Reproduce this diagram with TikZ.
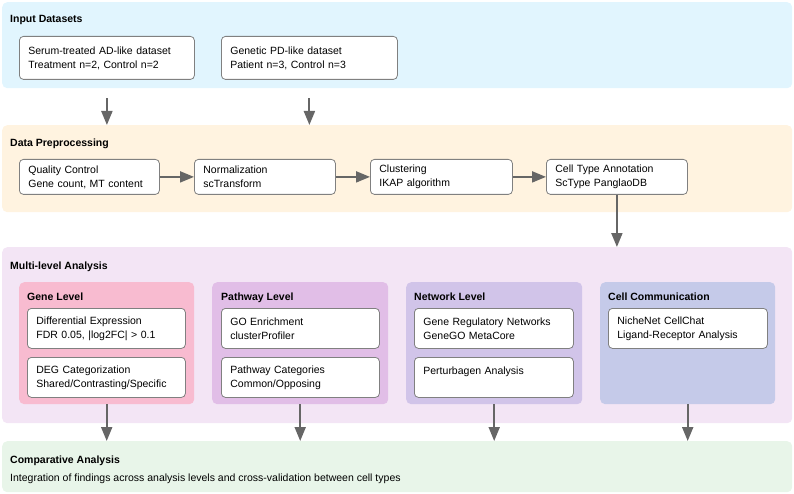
\documentclass[tikz,border=0pt]{standalone}
\usepackage{fontspec}
\setmainfont{Liberation Sans}
\usetikzlibrary{arrows.meta}
\definecolor{bandIn}{HTML}{E1F5FE}
\definecolor{bandPre}{HTML}{FFF3E0}
\definecolor{bandMulti}{HTML}{F3E5F5}
\definecolor{bandComp}{HTML}{E8F5E9}
\definecolor{panGene}{HTML}{F8BBD0}
\definecolor{panPath}{HTML}{E1BEE7}
\definecolor{panNet}{HTML}{D1C4E9}
\definecolor{panCell}{HTML}{C5CAE9}
\definecolor{arrgray}{HTML}{666666}
\definecolor{boxgray}{HTML}{808080}
\begin{document}
\begin{tikzpicture}[x=1pt,y=-1pt,
  font=\fontsize{10.5}{14}\selectfont,
  band/.style={fill=#1, draw=none, rounded corners=5pt, anchor=north west, inner sep=0pt, minimum width=790pt},
  panel/.style={fill=#1, draw=none, rounded corners=5pt, anchor=north west, inner sep=0pt, minimum width=176pt, minimum height=122pt},
  box/.style={draw=boxgray, fill=white, rounded corners=4pt, line width=0.8pt, align=left, anchor=north west, inner xsep=9pt, inner ysep=0pt},
  title/.style={anchor=base west, inner sep=0pt, font=\fontsize{10.5}{14}\selectfont\bfseries},
  plain/.style={anchor=base west, inner sep=0pt},
  arr/.style={draw=arrgray, line width=2pt, -{Triangle[length=14pt,width=11pt]}}
]
\useasboundingbox (0,0) rectangle (794,494);

% bands
\node[band=bandIn, minimum height=86pt] (inb) at (2,2) {};
\node[band=bandPre, minimum height=87pt] (preb) at (2,125) {};
\node[band=bandMulti, minimum height=176pt] (mulb) at (2,247) {};
\node[band=bandComp, minimum height=51pt] (compb) at (2,441) {};

% band titles
\node[title] (tin) at (10,23) {Input Datasets};
\node[title] (tpre) at (10,147) {Data Preprocessing};
\node[title] (tmul) at (10,269) {Multi-level Analysis};
\node[title] (tcomp) at (10,463) {Comparative Analysis};
\node[plain] (ccomp) at (10,481) {Integration of findings across analysis levels and cross-validation between cell types};

% input boxes
\node[box, text width=157pt, minimum height=43pt] (ad) at (19,36) {Serum-treated AD-like dataset\\Treatment n=2, Control n=2};
\node[box, text width=158pt, minimum height=43pt] (pd) at (221,36) {Genetic PD-like dataset\\Patient n=3, Control n=3};

% preprocessing boxes
\node[box, text width=122pt, minimum height=35pt] (qc) at (19,159) {Quality Control\\Gene count, MT content};
\node[box, text width=123pt, minimum height=35pt] (norm) at (194,159) {Normalization\\scTransform};
\node[box, text width=124pt, minimum height=35pt] (clu) at (370,159) {Clustering\\IKAP algorithm};
\node[box, text width=123pt, minimum height=35pt] (cta) at (546,159) {Cell Type Annotation\\ScType PanglaoDB};

% panels
\node[panel=panGene, minimum width=175pt] (gene) at (19,282) {};
\node[panel=panPath] (path) at (212,282) {};
\node[panel=panNet] (net) at (406,282) {};
\node[panel=panCell, minimum width=175pt] (cell) at (600,282) {};

\node[title] (tgene) at (27,300) {Gene Level};
\node[title] (tpath) at (221,300) {Pathway Level};
\node[title] (tnet) at (414,300) {Network Level};
\node[title] (tcell) at (608,300) {Cell Communication};

% inner boxes
\node[box, text width=140pt, minimum height=40pt] (de) at (27,308) {Differential Expression\\FDR 0.05, |log2FC| > 0.1};
\node[box, text width=140pt, minimum height=40pt] (deg) at (27,357) {DEG Categorization\\Shared/Contrasting/Specific};
\node[box, text width=140pt, minimum height=40pt] (go) at (221,308) {GO Enrichment\\clusterProfiler};
\node[box, text width=140pt, minimum height=40pt] (pc) at (221,357) {Pathway Categories\\Common/Opposing};
\node[box, text width=141pt, minimum height=40pt] (grn) at (414,308) {Gene Regulatory Networks\\GeneGO MetaCore};
\node[box, text width=141pt, minimum height=40pt] (pert) at (414,357) {Perturbagen Analysis\\\mbox{}};
\node[box, text width=141pt, minimum height=40pt] (nc) at (608,308) {NicheNet CellChat\\Ligand-Receptor Analysis};

% arrows
\draw[arr] ([yshift=-10pt]ad.south |- inb.south) -- (ad.south |- preb.north);
\draw[arr] ([yshift=-10pt]pd.south |- inb.south) -- (pd.south |- preb.north);
\draw[arr] (qc.east) -- (norm.west);
\draw[arr] (norm.east) -- (clu.west);
\draw[arr] (clu.east) -- (cta.west);
\draw[arr] (cta.south) -- (cta.south |- mulb.north);
\draw[arr] (gene.south) -- (gene.south |- compb.north);
\draw[arr] (path.south) -- (path.south |- compb.north);
\draw[arr] (net.south) -- (net.south |- compb.north);
\draw[arr] (cell.south) -- (cell.south |- compb.north);
\end{tikzpicture}
\end{document}
